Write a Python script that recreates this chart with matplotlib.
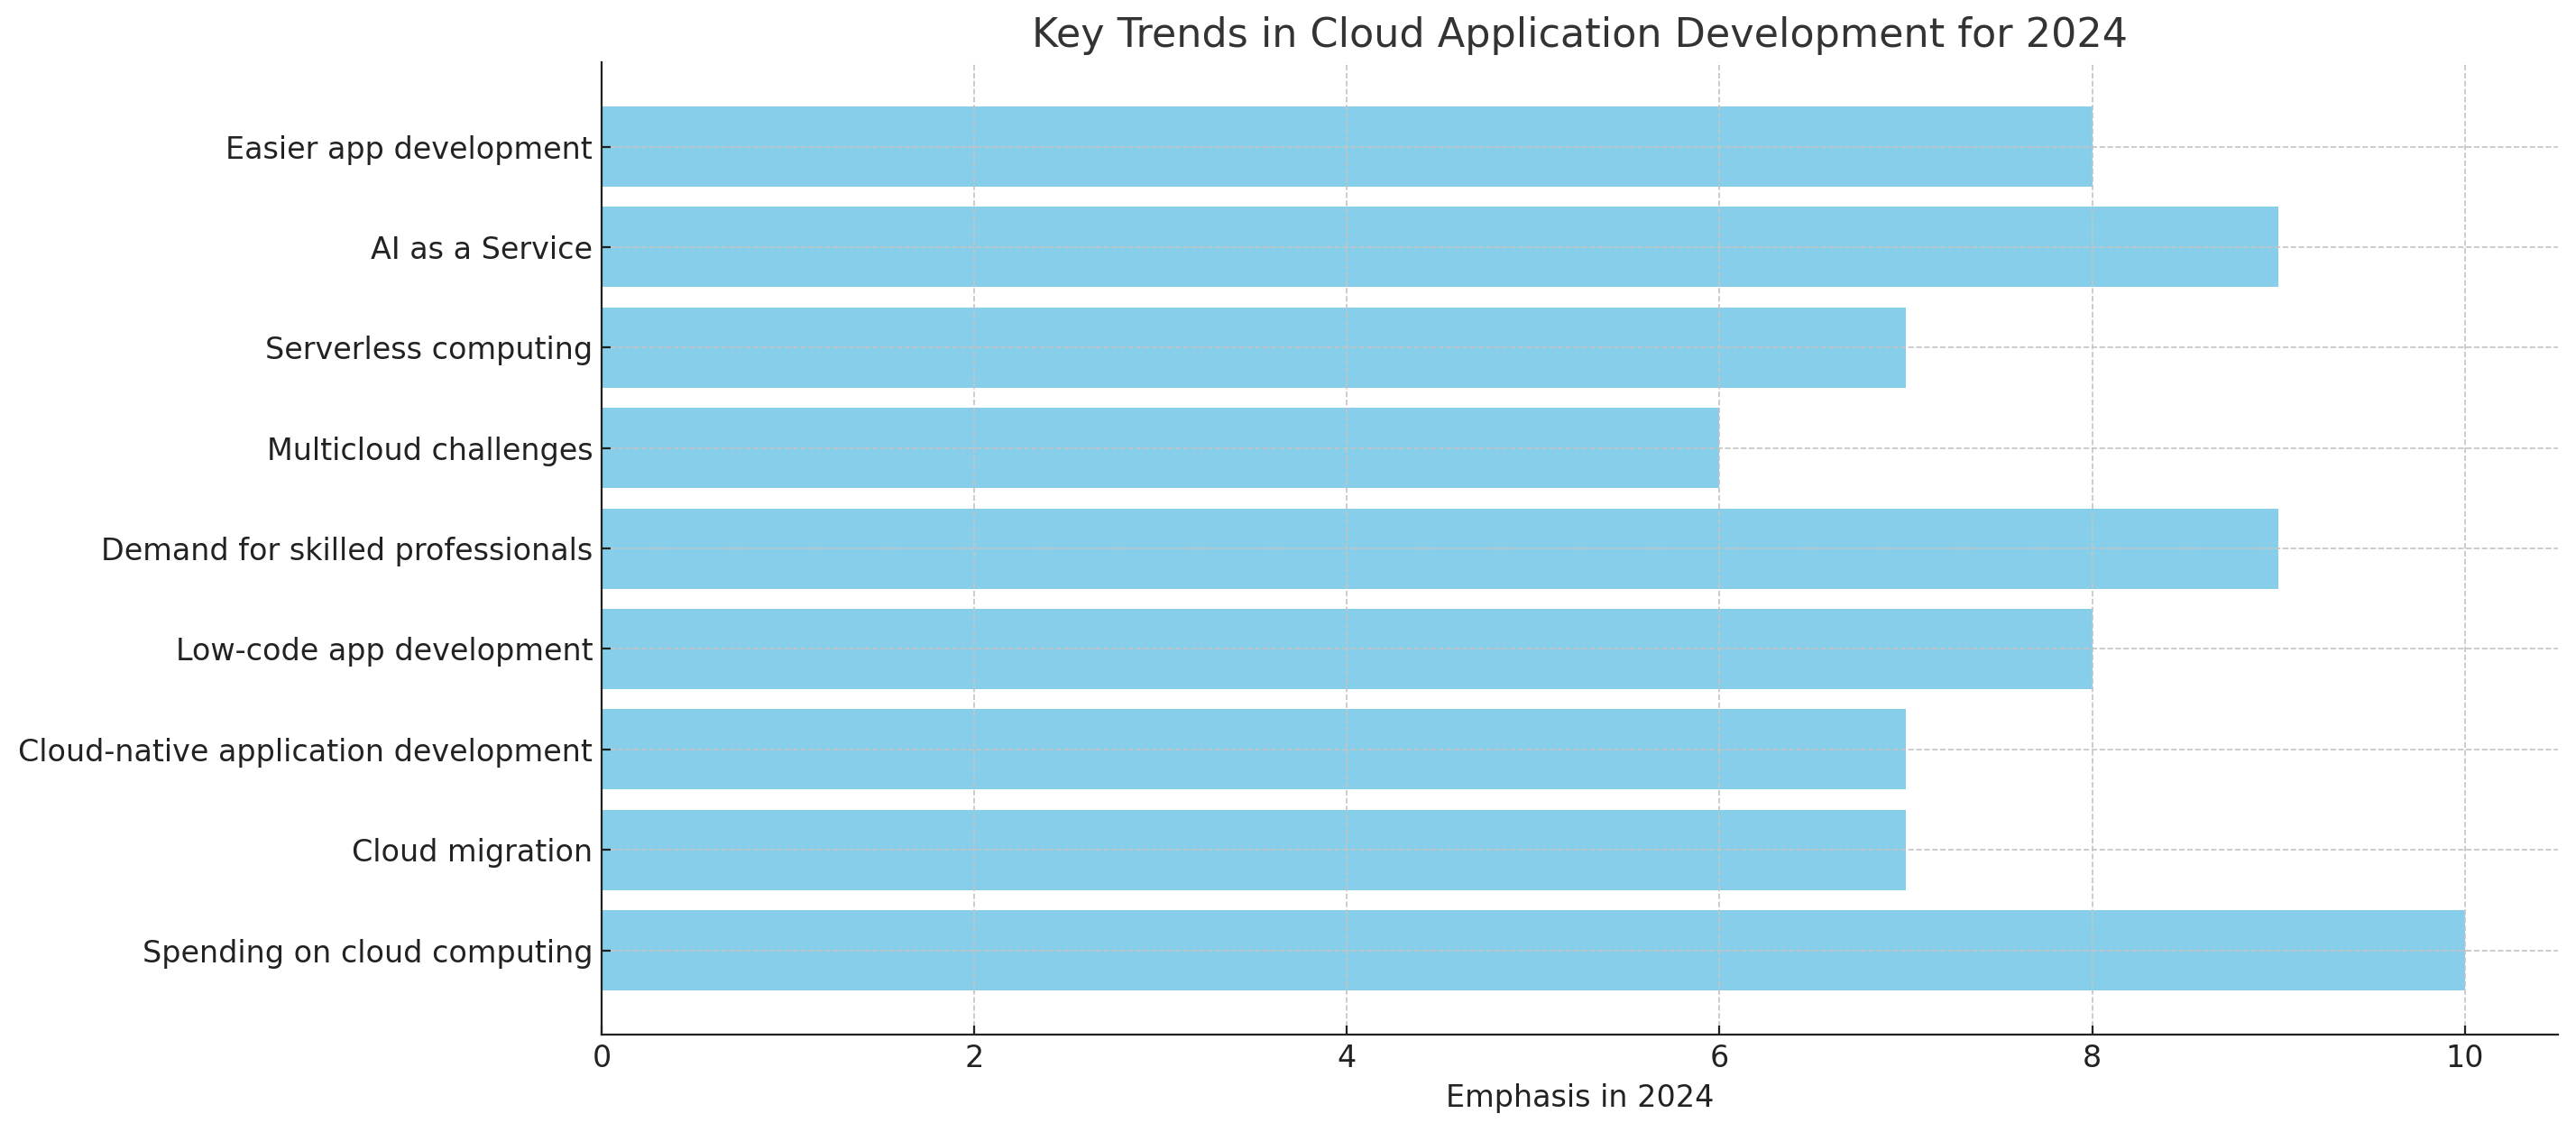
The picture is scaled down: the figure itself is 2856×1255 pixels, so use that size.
import matplotlib
matplotlib.use("Agg")
import matplotlib.pyplot as plt

# trends, bottom to top as drawn by barh
trends = [
    "Spending on cloud computing",
    "Cloud migration",
    "Cloud-native application development",
    "Low-code app development",
    "Demand for skilled professionals",
    "Multicloud challenges",
    "Serverless computing",
    "AI as a Service",
    "Easier app development",
]
emphasis = [10, 7, 7, 8, 9, 6, 7, 9, 8]


def plot_trends(save_path="out.png"):
    fig, ax = plt.subplots(figsize=(14.28, 6.275), dpi=200)

    ax.barh(trends, emphasis, color="skyblue", height=0.8)

    ax.set_title("Key Trends in Cloud Application Development for 2024",
                 fontsize=16, color="#333333")
    ax.set_xlabel("Emphasis in 2024", fontsize=12, color="#222222")

    ax.grid(True, linestyle="--", linewidth=0.6, color="#c4c4c4")
    ax.spines["top"].set_visible(False)
    ax.spines["right"].set_visible(False)
    ax.spines["left"].set_color("#222222")
    ax.spines["bottom"].set_color("#222222")
    ax.tick_params(direction="in", labelsize=12, colors="#222222")

    fig.subplots_adjust(left=0.2335, right=0.993, top=0.945, bottom=0.086)
    fig.savefig(save_path, dpi=200)


if __name__ == "__main__":
    plot_trends()
